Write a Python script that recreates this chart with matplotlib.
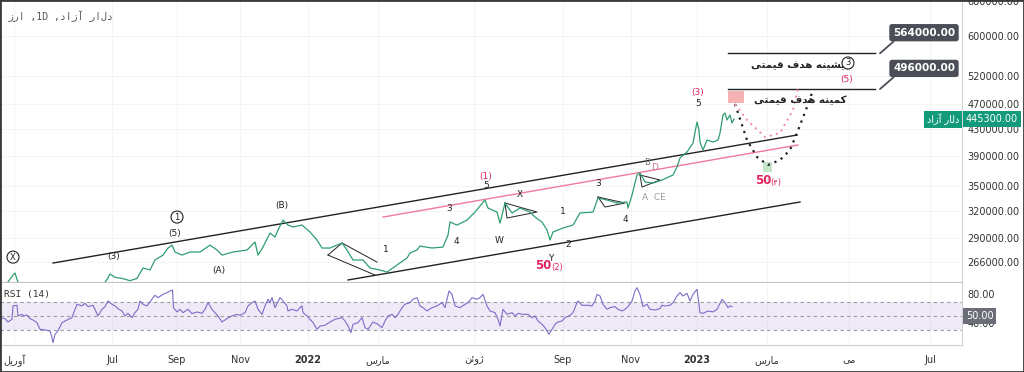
import matplotlib
matplotlib.use("Agg")
import matplotlib.pyplot as plt
import matplotlib.transforms as mtransforms
from matplotlib.patches import Rectangle

# chart time index (TradingView bar axis, left edge = 0) and daily price
price_t = [0, 8, 13, 15, 17, 22, 40, 60, 85, 100,
           107, 110, 115, 122, 130, 137, 143, 150, 155, 163,
           168, 172, 175, 182, 190, 200, 210, 217, 222, 233,
           247, 255, 258, 263, 270, 275, 278, 283, 288, 293,
           302, 310, 317, 322, 330, 342, 347, 353, 363, 370,
           380, 387, 397, 407, 410, 417, 420, 432, 443, 448,
           450, 457, 467, 475, 485, 488, 497, 500, 505, 512,
           520, 530, 535, 542, 547, 550, 553, 563, 573, 580,
           593, 598, 607, 617, 627, 628, 632, 637, 640, 645,
           653, 662, 673, 677, 680, 687, 693, 697, 699, 700,
           703, 707, 713, 718, 720, 723, 725, 727, 730, 732, 734]
price_v = [240000, 248000, 254000, 256000, 250000, 240000, 228000, 225000, 232000, 242000,
           250000, 255000, 252000, 251000, 249000, 251000, 260600, 258700, 268200, 273000,
           280000, 283000, 276000, 273000, 276000, 276000, 283000, 278000, 273000, 276000,
           278000, 286100, 273000, 281000, 295500, 291300, 298700, 309600, 304100, 302000,
           304100, 296600, 288200, 280000, 280000, 285100, 278000, 268200, 268200, 260600,
           258700, 256800, 263400, 270100, 275000, 278000, 282000, 280000, 281000, 293400,
           307400, 304100, 309600, 318700, 332800, 323300, 318700, 306300, 329200, 317600,
           323300, 318700, 313000, 307400, 298700, 288200, 296600, 300900, 304100, 317600,
           318700, 335200, 332800, 329200, 330400, 323300, 338800, 364100, 366700, 355000,
           353700, 357600, 364100, 374700, 387000, 395500, 408500, 440500, 428000, 409900,
           398300, 412900, 409900, 412900, 423400, 451800, 455000, 443700, 451800, 439000, 445300]
last_price = 445300

rsi_t = [0, 5, 8, 12, 13, 17, 18, 22, 24, 27, 30, 33, 37, 40, 45, 50, 52, 53, 55, 58,
         62, 65, 72, 75, 77, 82, 85, 88, 93, 95, 98, 102, 105, 108, 112, 115, 118, 122, 125, 128,
         132, 135, 138, 140, 143, 147, 150, 153, 155, 158, 163, 167, 170, 172.5, 173.5, 177, 180, 183, 188, 192,
         197, 202, 205, 208, 212, 215, 218, 222, 227, 232, 237, 240,
         245, 248, 252, 255, 258, 262, 265, 268, 270, 272, 275, 280, 283, 287, 288, 292, 297, 300, 302, 303,
         307, 310, 313, 317, 320, 325, 330, 335, 342, 345, 348, 351, 353, 358, 362, 365, 368, 373, 378, 382,
         385, 388, 392, 395, 398, 402, 405, 410, 413, 417, 420, 423, 427, 432, 437, 442, 445, 449, 452, 455,
         460, 465, 468, 472, 477, 480, 483, 487,
         490, 495, 498, 500, 503, 507, 512, 515, 518, 523, 528, 532, 535, 538, 542, 545, 549, 552, 555, 558,
         562, 565, 570, 573, 577, 578, 582, 588, 592, 595, 597, 600, 603, 607, 610, 615, 618, 622, 625, 628,
         632, 635, 637, 640, 643, 647, 650, 655, 660, 662, 665, 670, 673, 677, 680, 683, 687, 690, 693, 697,
         700, 703, 708, 713, 717, 722, 725, 728, 730, 732]
rsi_v = [47.7, 46.3, 41.6, 45.4, 64, 64.9, 50, 52.3, 50, 51.4, 46.3, 44.4, 40.7, 31.4, 30.5, 29.1, 19.8, 12.8, 24.4, 29.1,
         40.7, 43, 47.7, 59.3, 66.3, 64, 67.7, 63, 64.9, 59.3, 50, 59.3, 63, 70.9, 66.3, 64, 60.2, 57, 50, 53.7,
         47.7, 54.7, 59.3, 70.9, 66.3, 64, 69.5, 75.6, 78.8, 75.6, 80.2, 82.6, 84.9, 86.3, 61.6, 55.6, 59.3, 54.7, 59.3, 53.3,
         55.6, 53.7, 59.3, 68.6, 59.3, 54.7, 50, 41.6, 46.3, 50, 52.3, 50.9,
         54.7, 64, 68.6, 70.9, 59.3, 52.3, 64, 73.3, 68.6, 75.6, 61.6, 75.6, 70.9, 64, 57, 59.3, 57, 61.6, 64, 54.7,
         50, 45.4, 40.7, 31.4, 36, 37, 41.6, 45.4, 47.7, 43, 36, 26.8, 38.4, 40.7, 47.7, 33.7, 31.4, 41.6, 38.4, 33.7,
         43, 50, 52.3, 47.7, 52.3, 61.6, 66.3, 68.6, 73.3, 75.6, 64, 61.6, 57, 61.6, 64, 68.6, 61.6, 84.9, 80.2, 64,
         61.6, 66.3, 68.6, 75.6, 73.3, 75.6, 80.2, 64,
         57, 54.7, 45.4, 36, 59.3, 52.3, 54.7, 50, 53.7, 52.3, 52.3, 47.7, 50, 43, 38.4, 33.7, 24.4, 31.4, 38.4, 41.6,
         43, 47.7, 50.9, 54.7, 68.6, 70.9, 64.9, 64.9, 64, 70.9, 80.2, 77.9, 66.3, 59.3, 61.6, 63, 59.3, 57, 59.3, 63,
         70.9, 84.9, 89.5, 80.2, 63, 66.3, 59.3, 58.4, 60.2, 64.9, 64, 64.9, 68.6, 77.9, 82.6, 77.9, 81.6, 70.9, 80.2, 87.2,
         54.7, 53.7, 57, 55.6, 59.3, 73.3, 68.6, 61.6, 64, 63]

# projected paths after the last bar
proj_deep_t = [735, 747, 757, 768, 780, 790, 797, 807, 813]
proj_deep_v = [470000, 412900, 388400, 377400, 384300, 398300, 423400, 465000, 494300]
proj_flat_t = [735, 747, 765, 780, 793, 798]
proj_flat_v = [470000, 443700, 417400, 423400, 460000, 497900]

# trend channel (black), inner line (pink)
upper_line = [(53, 265300), (797, 420400)]
lower_line = [(348, 249600), (800, 330400)]
mid_line = [(383, 313000), (798, 405600)]
small_shapes = [
    [(328, 273000), (342, 285100), (377, 266200)],
    [(328, 273000), (375, 254100)],
    [(505, 329200), (537, 318700), (507, 311900), (505, 329200)],
    [(598, 336400), (625, 329200), (605, 324500), (598, 336400)],
    [(640, 364100), (660, 357600), (642, 348700), (640, 364100)],
]

# price targets
target_hi = 564000
target_lo = 496000
target_t = [728, 875]

wave_labels = [
    ('(3)', 114, 272000), ('(5)', 175, 295500), ('(A)', 219, 258700), ('(B)', 282, 326800),
    ('1', 386, 279000), ('3', 449, 323300), ('4', 456, 287100), ('5', 486, 351200),
    ('X', 520, 340000), ('W', 499, 288200), ('1', 563, 319800), ('2', 568, 284000),
    ('Y', 551, 270100), ('3', 598, 353700), ('4', 625, 310800), ('5', 698, 471700),
]
red_labels = [('(1)', 486, 362700), ('(3)', 698, 489000), ('(5)', 847, 512400)]
circled_labels = [('X', 13, 271000), ('1', 177, 313000), ('3', 848, 544700)]

tick_t = [14, 112, 177, 240, 308, 378, 474, 563, 631, 697, 767, 849, 930]
tick_names = ['آوریل', 'Jul', 'Sep', 'Nov', '2022', 'مارس', 'ژوئن', 'Sep', 'Nov', '2023', 'مارس', 'می', 'Jul']
price_ticks = [266000, 290000, 320000, 350000, 390000, 430000, 470000, 520000, 600000, 680000]

# --- persian text: contextual forms + visual order (matplotlib has no shaping) ---
DUAL = {
    'ب': ('\ufe90', '\ufe91', '\ufe92'), 'ت': ('\ufe96', '\ufe97', '\ufe98'),
    'س': ('\ufeb2', '\ufeb3', '\ufeb4'), 'ش': ('\ufeb6', '\ufeb7', '\ufeb8'),
    'ف': ('\ufed2', '\ufed3', '\ufed4'), 'ق': ('\ufed6', '\ufed7', '\ufed8'),
    'ک': ('\ufb8f', '\ufb90', '\ufb91'), 'ل': ('\ufede', '\ufedf', '\ufee0'),
    'م': ('\ufee2', '\ufee3', '\ufee4'), 'ن': ('\ufee6', '\ufee7', '\ufee8'),
    'ه': ('\ufeea', '\ufeeb', '\ufeec'), 'ی': ('\ufef0', '\ufef3', '\ufef4'),
    'ئ': ('\ufe8a', '\ufe8b', '\ufe8c'),
}
RIGHT = {'ا': '\ufe8e', 'آ': '\ufe82', 'د': '\ufeaa', 'ر': '\ufeae',
         'ز': '\ufeb0', 'ژ': '\ufb8b', 'و': '\ufeee'}


def rtl(s, shape=True):
    if not any('\u0600' <= c <= '\u06ff' for c in s):
        return s
    if not shape:
        return s[::-1]
    out = []
    for i, ch in enumerate(s):
        prev = s[i - 1] if i > 0 else ''
        nxt = s[i + 1] if i + 1 < len(s) else ''
        a = prev in DUAL
        b = ch in DUAL and (nxt in DUAL or nxt in RIGHT)
        if ch in DUAL:
            fin, ini, med = DUAL[ch]
            ch = med if a and b else fin if a else ini if b else ch
        elif ch in RIGHT and a:
            ch = RIGHT[ch]
        out.append(ch)
    return ''.join(reversed(out))


plt.rcParams['font.family'] = ['DejaVu Sans']
RED = '#e0245e'
TEAL = '#139a7a'
INK = '#222222'

fig = plt.figure(figsize=(10.24, 3.72), dpi=100)
ax = fig.add_axes([0, 1 - 282 / 372, 962 / 1024, 282 / 372])
rx = fig.add_axes([0, 1 - 345 / 372, 962 / 1024, 62 / 372])

# ---------------- price panel ----------------
ax.set_yscale('log')
ax.set_xlim(0, 962)
ax.set_ylim(247800, 683200)
ax.plot(price_t, price_v, color='#2f9e6f', lw=0.9, zorder=3)

for (t0, p0), (t1, p1) in [upper_line, lower_line]:
    ax.plot([t0, t1], [p0, p1], color=INK, lw=1.0, zorder=2)
ax.plot([mid_line[0][0], mid_line[1][0]], [mid_line[0][1], mid_line[1][1]],
        color='#f07a9a', lw=1.0, zorder=2)
for shape in small_shapes:
    ax.plot([p[0] for p in shape], [p[1] for p in shape], color=INK, lw=0.7, zorder=2)

ax.plot(proj_deep_t, proj_deep_v, color=INK, lw=1.6, ls=(0, (1, 2.2)), zorder=4)
ax.plot(proj_flat_t, proj_flat_v, color='#f08aa5', lw=1.4, ls=(0, (1, 2.2)), zorder=4)

ax.add_patch(Rectangle((728, 471700), 16, 20800, fc='#f6b3b3', ec='none', zorder=3))
ax.add_patch(Rectangle((763, 368000), 9, 13000, fc='#c5e6c9', ec='none', zorder=3))

for level in (target_hi, target_lo):
    ax.plot(target_t, [level, level], color=INK, lw=1.0, zorder=2)
    ax.annotate(f'{level:.2f}', xy=(880, level), xytext=(924, level * 1.077),
                ha='center', va='center', color='white', fontsize=7.5, weight='bold',
                bbox=dict(boxstyle='round,pad=0.35,rounding_size=0.25', fc='#4b4e56', ec='none'),
                arrowprops=dict(arrowstyle='-', color='#4b4e56', lw=1.3, relpos=(0.08, 0.0),
                                shrinkA=0, shrinkB=0), zorder=6)

ax.text(800, 540800, rtl('بیشینه هدف قیمتی'), ha='center', va='center',
        fontsize=7.5, weight='bold', color=INK, zorder=5)
ax.text(800, 476800, rtl('کمینه هدف قیمتی'), ha='center', va='center',
        fontsize=7.5, weight='bold', color=INK, zorder=5)

for s, t, p in wave_labels:
    ax.text(t, p, s, ha='center', va='center', fontsize=6.5, color=INK, zorder=5)
for s, t, p in red_labels:
    ax.text(t, p, s, ha='center', va='center', fontsize=6.5, color=RED, zorder=5)
for s, t, p in circled_labels:
    ax.text(t, p, s, ha='center', va='center', fontsize=6, color=INK, zorder=5,
            bbox=dict(boxstyle='circle,pad=0.18', fc='white', ec=INK, lw=0.8))
ax.text(647, 381500, 'B', ha='center', va='center', fontsize=6, color='#777777', zorder=5)
ax.text(655, 374700, 'D', ha='center', va='center', fontsize=6.5, color='#c77b96', zorder=5)
ax.text(654, 335200, 'A  CE', ha='center', va='center', fontsize=6.5, color='#9a9a9a', zorder=5)

ax.text(543, 263400, '50', ha='center', va='center', fontsize=8.5, weight='bold', color=RED, zorder=5)
ax.text(557, 261500, '(2)', ha='center', va='center', fontsize=6, color=RED, zorder=5)
ax.text(763, 357600, '50', ha='center', va='center', fontsize=8.5, weight='bold', color=RED, zorder=5)
ax.text(776, 355000, '(۴)', ha='center', va='center', fontsize=6, color=RED, zorder=5)

ax.text(0.008, 0.943, rtl('ارز', False) + ' ,1D ,' + rtl('دلار آزاد', False),
        transform=ax.transAxes, ha='left', va='center', fontsize=7,
        color='#555555', family='DejaVu Sans Mono')

ax.yaxis.tick_right()
ax.set_yticks(price_ticks)
ax.set_yticklabels([f'{v:.2f}' for v in price_ticks])
ax.yaxis.set_minor_locator(matplotlib.ticker.NullLocator())
ax.set_xticks(tick_t)
ax.tick_params(axis='x', labelbottom=False, length=0)
ax.tick_params(axis='y', length=0, pad=4, labelsize=7, labelcolor='#333333')
ax.grid(color='#f3f3f3', lw=0.6)
ax.set_axisbelow(True)
for side in ('top', 'left'):
    ax.spines[side].set_visible(False)
ax.spines['right'].set_color('#d4d4d4')
ax.spines['bottom'].set_color('#c4c4c4')

trans = mtransforms.blended_transform_factory(ax.transAxes, ax.transData)
ax.text(1.004, last_price, f'{last_price:.2f}', transform=trans, ha='left', va='center',
        fontsize=7, color='white', clip_on=False, zorder=7,
        bbox=dict(boxstyle='square,pad=0.28', fc=TEAL, ec='none'))
ax.text(0.997, last_price, rtl('دلار آزاد'), transform=trans, ha='right', va='center',
        fontsize=7, color='white', zorder=7,
        bbox=dict(boxstyle='square,pad=0.28', fc=TEAL, ec='none'))

# ---------------- RSI panel ----------------
rx.set_xlim(0, 962)
rx.set_ylim(9.5, 96)
rx.axhspan(30, 70, color='#7e57c2', alpha=0.12, lw=0)
for lvl in (70, 50, 30):
    rx.axhline(lvl, color='#9a9a9a', lw=0.8, ls=(0, (3, 3)))
rx.plot(rsi_t, rsi_v, color='#7e6cc9', lw=0.8)
rx.text(0.004, 0.82, 'RSI (14)', transform=rx.transAxes, fontsize=6.8,
        color='#333333', family='DejaVu Sans Mono', va='center')

rx.yaxis.tick_right()
rx.set_yticks([40, 80])
rx.set_yticklabels(['40.00', '80.00'])
rx.tick_params(axis='y', length=0, pad=4, labelsize=7, labelcolor='#333333')
rtrans = mtransforms.blended_transform_factory(rx.transAxes, rx.transData)
rx.text(1.004, 50, '50.00', transform=rtrans, ha='left', va='center', fontsize=7,
        color='white', clip_on=False, zorder=7,
        bbox=dict(boxstyle='square,pad=0.28', fc='#6b6e76', ec='none'))

rx.set_xticks(tick_t)
rx.set_xticklabels([rtl(s) for s in tick_names])
for lab, name in zip(rx.get_xticklabels(), tick_names):
    if name in ('2022', '2023'):
        lab.set_fontweight('bold')
rx.tick_params(axis='x', length=0, pad=7, labelsize=7, labelcolor='#333333')
rx.grid(axis='x', color='#f3f3f3', lw=0.6)
rx.set_axisbelow(True)
for side in ('top', 'left'):
    rx.spines[side].set_visible(False)
rx.spines['right'].set_color('#d4d4d4')
rx.spines['bottom'].set_color('#d0d0d0')

fig.add_artist(Rectangle((0, 0), 1, 1, transform=fig.transFigure, fill=False,
                         ec='#3a3a3a', lw=2))
fig.savefig('out.png', dpi=100)
